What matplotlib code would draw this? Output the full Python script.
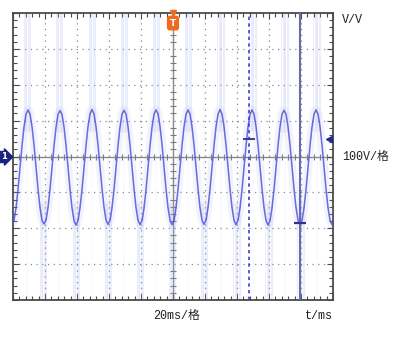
import numpy as np
import matplotlib
matplotlib.use("Agg")
from matplotlib import pyplot as plt

# 示波器波形数据
t_step = 1.25  # ms
t_start = -0.6
wave_v = [
    -190, -178, -143, -91, -30, 31, 83, 118, 130, 118, 83, 31, -30, -91, -143, -178,
    -188, -177, -142, -90, -30, 30, 82, 117, 128, 117, 82, 30, -30, -92, -144, -179,
    -191, -178, -143, -91, -31, 31, 84, 119, 131, 118, 83, 31, -29, -90, -142, -177,
    -189, -178, -143, -91, -30, 31, 83, 118, 129, 118, 83, 31, -30, -91, -143, -178,
    -190, -179, -144, -92, -30, 30, 82, 118, 130, 119, 84, 32, -30, -91, -143, -178,
    -190, -178, -143, -91, -30, 31, 83, 118, 130, 118, 83, 31, -30, -91, -143, -178,
    -189, -177, -142, -90, -30, 31, 83, 118, 131, 118, 83, 31, -30, -91, -143, -178,
    -190, -178, -143, -91, -30, 31, 83, 118, 130, 118, 83, 31, -30, -91, -143, -178,
    -191, -179, -143, -91, -30, 31, 83, 118, 129, 118, 83, 31, -30, -91, -143, -178,
    -190, -178, -143, -91, -30, 31, 83, 118, 130, 118, 83, 31, -30, -91, -143, -178,
    -190, -178,
]
t_ms = t_start + t_step * np.arange(len(wave_v))

peak_t = [8.8, 28.8, 49.4, 69.4, 89.4, 109.4, 130.0, 150.0, 170.0, 190.0]
peak_v = [130, 128, 131, 129, 130, 130, 131, 130, 129, 130]
trough_t = [18.8, 39.4, 59.4, 79.4, 99.4, 119.4, 140.0, 160.0, 180.0]
trough_v = [-188, -191, -189, -190, -190, -189, -190, -191, -190]
spike_offsets = [-2.2, -1.3, -0.5, 0.3, 1.1, 2.0]

cursor_dash_t = 147.5
cursor_solid_t = 179.4
cursor_dash_v = 50
cursor_solid_v = -184
trig_level = 50

W, H = 408, 342
fig = plt.figure(figsize=(W / 100, H / 100), dpi=100, facecolor="white")
ax = fig.add_axes([13 / W, (H - 300) / H, 320 / W, 287 / H])
ax.set_xlim(0, 200)
ax.set_ylim(-400, 400)

wave_col = "#4848d6"
noise_col = "#9aa8f0"

# 网格 (点线)
for gx in range(20, 200, 20):
    if gx != 100:
        ax.axvline(gx, color="#8a8a8a", lw=0.9, ls=(0, (1, 3.6)), zorder=1)
for gy in range(-300, 400, 100):
    if gy != 0:
        ax.axhline(gy, color="#8a8a8a", lw=0.9, ls=(0, (1, 3.6)), zorder=1)

# 中心十字线
ax.axhline(0, color="#8a8a8a", lw=1.0, zorder=1)
ax.axvline(100, color="#8a8a8a", lw=1.0, zorder=1)
minor_x = [x for x in np.arange(0, 201, 4) if x % 20 != 0]
minor_y = [y for y in np.arange(-400, 401, 20) if y % 100 != 0]
ax.plot(minor_x, [0] * len(minor_x), ls="none", marker="|", ms=4, mew=0.8, color="#7a7a7a", zorder=1)
ax.plot([100] * len(minor_y), minor_y, ls="none", marker="_", ms=5, mew=0.8, color="#7a7a7a", zorder=1)

# 噪声毛刺
for pt, pv in zip(peak_t, peak_v):
    for off in spike_offsets:
        ax.vlines(pt + off, pv - 60, 400, color=noise_col, lw=0.6, alpha=0.22, zorder=2)
    ax.vlines(pt, -400, 400, color=noise_col, lw=1.2, alpha=0.05, zorder=2)
for tt, tv in zip(trough_t, trough_v):
    for off in spike_offsets:
        ax.vlines(tt + off, -400, tv + 60, color=noise_col, lw=0.6, alpha=0.22, zorder=2)
    ax.vlines(tt, -400, 400, color=noise_col, lw=1.2, alpha=0.05, zorder=2)

# 波形
ax.plot(t_ms, wave_v, color=noise_col, lw=6, alpha=0.13, zorder=3, solid_capstyle="butt")
ax.plot(t_ms, wave_v, color=wave_col, lw=1.1, alpha=0.8, zorder=4)

# 光标
ax.axvline(cursor_dash_t, color="#4040c8", lw=1.2, ls=(0, (2, 2)), zorder=5)
ax.axvline(cursor_solid_t, color="#6a6ab0", lw=1.5, zorder=5)
ax.plot([cursor_dash_t], [cursor_dash_v], marker="_", ms=9, mew=1.3, color="#303090", zorder=6)
ax.plot([cursor_solid_t], [cursor_solid_v], marker="_", ms=9, mew=1.6, color="#303090", zorder=6)

# 触发电平标记
ax.plot([197.5], [trig_level], marker="<", ms=4.5, color="#1a2a90", zorder=7, clip_on=False)

# 边框与刻度
for s in ax.spines.values():
    s.set_color("#4a4a4a")
    s.set_linewidth(1.3)
ax.set_xticks(np.arange(0, 201, 20))
ax.set_yticks(np.arange(-400, 401, 100))
ax.set_xticks(np.arange(0, 201, 4), minor=True)
ax.set_yticks(np.arange(-400, 401, 20), minor=True)
ax.tick_params(which="both", direction="in", top=True, right=True,
               labelbottom=False, labelleft=False, color="#4a4a4a", width=0.8)
ax.tick_params(which="major", length=4)
ax.tick_params(which="minor", length=3)

# 触发位置 T
ax.plot([100], [400], marker="v", ms=5, color="#f06a1e", zorder=8, clip_on=False)
ax.text(100, 372, "T", color="white", fontsize=6.5, fontweight="bold", ha="center", va="center",
        family="DejaVu Sans", zorder=9,
        bbox=dict(boxstyle="round,pad=0.25", fc="#f06a1e", ec="#f06a1e"))

# 通道 1 标记
fig.text(1 / W, 1 - 157 / H, "1", color="white", fontsize=6, fontweight="bold",
         ha="left", va="center", family="DejaVu Sans",
         bbox=dict(boxstyle="rarrow,pad=0.12", fc="#1a237e", ec="#1a237e"))

fam = ["Liberation Mono", "Noto Sans CJK SC"]
fig.text(342 / W, 1 - 20 / H, "V/V", fontsize=8.5, family=fam, ha="left", va="center", color="#222222")
fig.text(342 / W, 1 - 157 / H, "100V/格", fontsize=8.5, family=fam, ha="left", va="center", color="#222222")
fig.text(153 / W, 1 - 316 / H, "20ms/格", fontsize=8.5, family=fam, ha="left", va="center", color="#222222")
fig.text(305 / W, 1 - 316 / H, "t/ms", fontsize=8.5, family=fam, ha="left", va="center", color="#222222")

fig.savefig("out.png", dpi=100, facecolor="white")
